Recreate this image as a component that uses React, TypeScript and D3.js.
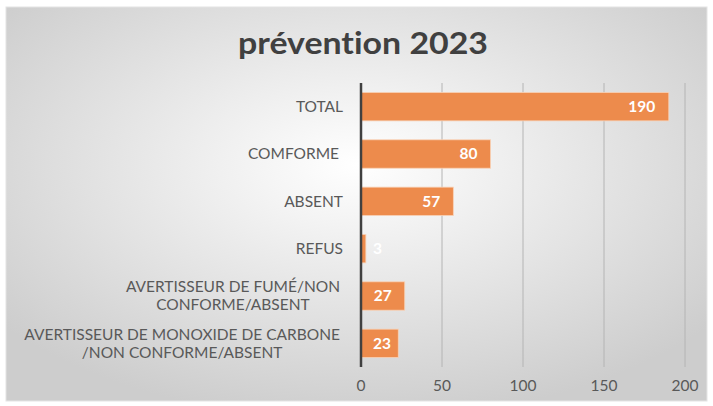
import React, { useEffect, useRef } from 'react';
import * as d3 from 'd3';

const categories = [
  'TOTAL',
  'COMFORME ',
  'ABSENT',
  'REFUS',
  'AVERTISSEUR DE FUMÉ/NON|CONFORME/ABSENT',
  'AVERTISSEUR DE MONOXIDE DE CARBONE|/NON CONFORME/ABSENT',
];
const values = [190, 80, 57, 3, 27, 23];
const xTicks = [0, 50, 100, 150, 200];
const title = 'prévention 2023';

const W = 713;
const H = 406;

const App: React.FC = () => {
  const svgRef = useRef<SVGSVGElement>(null);

  useEffect(() => {
    document.body.style.margin = '0';
    if (!svgRef.current) return;
    const svg = d3.select(svgRef.current);
    svg.selectAll('*').remove();

    const font = 'Lato, "Open Sans", sans-serif';

    // Background gradient
    const defs = svg.append('defs');
    const grad = defs.append('radialGradient')
      .attr('id', 'bg')
      .attr('cx', '50%').attr('cy', '40%').attr('r', '65%');
    grad.append('stop').attr('offset', '0%').attr('stop-color', '#ffffff');
    grad.append('stop').attr('offset', '100%').attr('stop-color', '#cdcdcd');

    svg.append('rect')
      .attr('x', 6).attr('y', 7)
      .attr('width', 701).attr('height', 394)
      .attr('fill', 'url(#bg)')
      .attr('stroke', '#e4e4e4')
      .attr('stroke-width', 1);

    const margin = { top: 83, bottom: 39, left: 361, right: 28 };
    const xScale = d3.scaleLinear()
      .domain([0, 200])
      .range([margin.left, W - margin.right]);
    const yScale = d3.scaleBand<string>()
      .domain(categories)
      .range([margin.top, H - margin.bottom])
      .paddingInner(0.4)
      .paddingOuter(0.2);

    // Title
    svg.append('text')
      .attr('x', 363).attr('y', 54)
      .attr('text-anchor', 'middle')
      .attr('font-family', font)
      .attr('font-weight', 'bold')
      .attr('font-size', 30)
      .attr('fill', '#404040')
      .attr('textLength', 250)
      .attr('lengthAdjust', 'spacingAndGlyphs')
      .style('font-variant-ligatures', 'none')
      .text(title);

    // Gridlines
    svg.append('g')
      .selectAll('line')
      .data(xTicks.filter(t => t > 0))
      .enter()
      .append('line')
      .attr('x1', d => xScale(d)).attr('x2', d => xScale(d))
      .attr('y1', margin.top).attr('y2', H - margin.bottom)
      .attr('stroke', '#b4b4b4')
      .attr('stroke-width', 1);

    // Bars
    svg.append('g')
      .selectAll('rect')
      .data(values)
      .enter()
      .append('rect')
      .attr('x', xScale(0))
      .attr('y', (d, i) => yScale(categories[i]) as number)
      .attr('width', d => xScale(d) - xScale(0))
      .attr('height', yScale.bandwidth())
      .attr('fill', '#ed8b4c')
      .attr('stroke', '#f8d3b8')
      .attr('stroke-width', 0.8);

    // Value labels
    svg.append('g')
      .selectAll('text')
      .data(values)
      .enter()
      .append('text')
      .attr('x', d => {
        const tw = String(d).length * 9.5;
        return Math.max(xScale(d) - 12 - tw, xScale(0) + 12);
      })
      .attr('y', (d, i) => (yScale(categories[i]) as number) + yScale.bandwidth() / 2)
      .attr('dy', '0.35em')
      .attr('font-family', font)
      .attr('font-weight', 'bold')
      .attr('font-size', 15.5)
      .attr('fill', '#ffffff')
      .text(d => d);

    // Axis line
    svg.append('line')
      .attr('x1', xScale(0)).attr('x2', xScale(0))
      .attr('y1', margin.top).attr('y2', H - margin.bottom)
      .attr('stroke', '#404040')
      .attr('stroke-width', 2.5);

    // Category labels
    const catG = svg.append('g');
    const labelRight = 340;
    categories.forEach((c) => {
      const lines = c.split('|');
      const cy = (yScale(c) as number) + yScale.bandwidth() / 2;
      const lh = 18;
      const t = catG.append('text')
        .attr('font-family', font)
        .attr('font-size', 15.5)
        .attr('fill', '#595959')
        .style('white-space', 'pre');
      if (lines.length === 1) {
        t.attr('text-anchor', 'end')
          .attr('x', 343)
          .attr('y', cy)
          .attr('dy', '0.35em')
          .text(lines[0]);
      } else {
        t.attr('text-anchor', 'middle');
        const spans = lines.map((ln, j) =>
          t.append('tspan')
            .attr('x', 0)
            .attr('y', cy + (j - (lines.length - 1) / 2) * lh)
            .attr('dy', '0.35em')
            .text(ln));
        const wMax = d3.max(spans, s => (s.node() as SVGTSpanElement).getComputedTextLength()) || 0;
        spans.forEach(s => s.attr('x', labelRight - wMax / 2));
      }
    });

    // X tick labels
    svg.append('g')
      .selectAll('text')
      .data(xTicks)
      .enter()
      .append('text')
      .attr('x', d => xScale(d))
      .attr('y', 386)
      .attr('dy', '0.35em')
      .attr('text-anchor', 'middle')
      .attr('font-family', font)
      .attr('font-size', 15.5)
      .attr('fill', '#595959')
      .text(d => d);
  }, []);

  return <svg ref={svgRef} width={W} height={H} style={{ display: 'block' }} />;
};

export default App;
